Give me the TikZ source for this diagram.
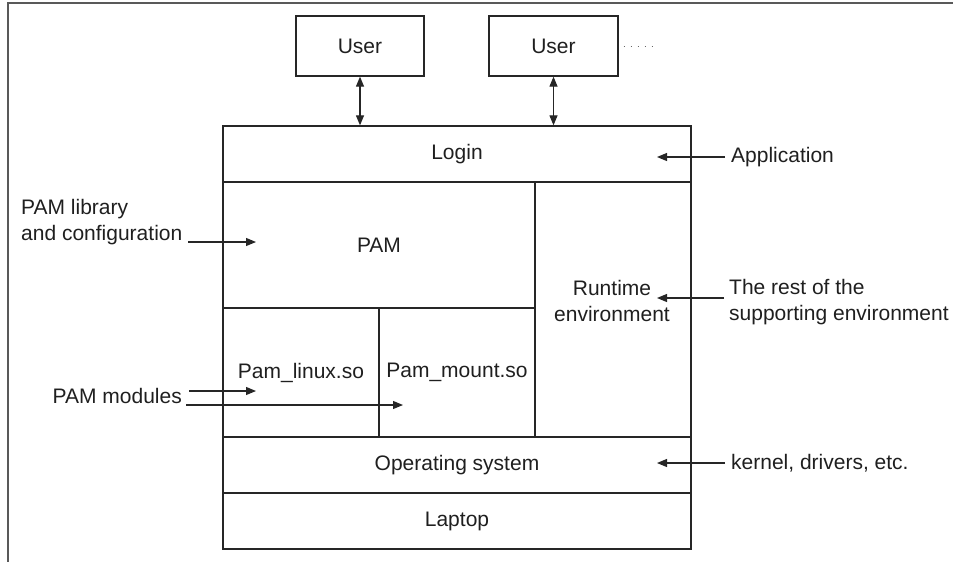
\documentclass[tikz,border=0pt]{standalone}
\usepackage{fontspec}
\setmainfont{Liberation Sans}
\usetikzlibrary{arrows.meta}
\begin{document}
\begin{tikzpicture}[x=1pt,y=-1pt,
  font=\fontsize{21}{26}\selectfont,
  every node/.style={text=black!88},
  box/.style={draw=black!85, line width=1.3pt, inner sep=0pt},
  lbl/.style={inner sep=0pt, align=left},
  conn/.style={draw=black!85, line width=1.1pt, -{Triangle[length=10pt,width=8pt]}},
  biconn/.style={draw=black!85, line width=1.2pt, {Triangle[length=10pt,width=8pt]}-{Triangle[length=10pt,width=8pt]}},
  frameline/.style={draw=black!65, line width=1.2pt}]
\useasboundingbox (0,0) rectangle (953,562);
% frame
\coordinate (ftr) at (953,3);
\coordinate (ftl) at (8,3);
\coordinate (fbl) at (8,562);
\draw[frameline] (ftr) -- (ftl) -- (fbl);
% users
\node[box, minimum width=128pt, minimum height=60pt] (u1) at (360,46) {User};
\node[box, minimum width=129pt, minimum height=60pt] (u2) at (553.5,46) {User};
\coordinate (dotend) at (657,46);
\draw[black!60, line width=1pt, dash pattern=on 1pt off 6pt] ([xshift=5pt]u2.east) -- (dotend);
% stack
\node[box, minimum width=468pt, minimum height=56pt] (login) at (457,154) {Login};
\node[box, minimum width=312pt, minimum height=126pt] (pam) at (379,245) {PAM};
\node[box, minimum width=156pt, minimum height=255pt] (runtime) at (613,309.5) {};
\node[lbl, align=center] (rtxt) at (612,301) {Runtime\\environment};
\node[box, minimum width=156pt, minimum height=129pt] (linux) at (301,372.5) {Pam\_linux.so};
\node[box, minimum width=156pt, minimum height=129pt] (mount) at (457,372.5) {Pam\_mount.so};
\node[box, minimum width=468pt, minimum height=56pt] (os) at (457,465) {Operating system};
\node[box, minimum width=468pt, minimum height=56pt] (laptop) at (457,521) {Laptop};
% user connectors
\draw[biconn] (u1.south) -- (u1.south |- login.north);
\draw[biconn] (u2.south) -- (u2.south |- login.north);
% labels
\node[lbl, anchor=west] (app) at (731,157) {Application};
\coordinate (append) at (657,157);
\draw[conn] ([xshift=-6pt]app.west) -- (append);

\node[lbl, anchor=west] (kern) at (731,463) {kernel, drivers, etc.};
\coordinate (kernend) at (657,463);
\draw[conn] ([xshift=-6pt]kern.west) -- (kernend);

\node[lbl, anchor=north west] (rest) at (729,279) {The rest of the\\supporting environment};
\coordinate (restend) at (657,298);
\coordinate (reststart) at (724,298);
\draw[conn] (reststart) -- (restend);

\node[lbl, anchor=north west] (plib) at (21,199) {PAM library\\and configuration};
\coordinate (plibstart) at (188,242);
\coordinate (plibend) at (256,242);
\draw[conn] (plibstart) -- (plibend);

\node[lbl, anchor=east] (pmod) at (182,396) {PAM modules};
\coordinate (pm1s) at (189,391);
\coordinate (pm1e) at (256,391);
\coordinate (pm2s) at (186,405);
\coordinate (pm2e) at (403,405);
\draw[conn] (pm1s) -- (pm1e);
\draw[conn] (pm2s) -- (pm2e);
\end{tikzpicture}
\end{document}
